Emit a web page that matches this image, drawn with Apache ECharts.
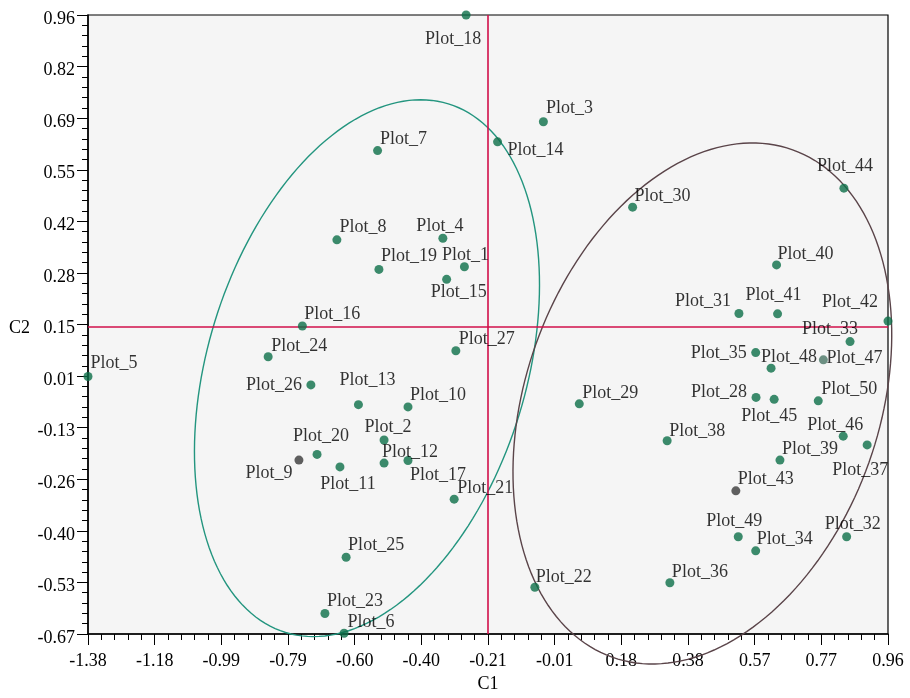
<!DOCTYPE html>
<html>
<head>
<meta charset="utf-8">
<script src="https://cdn.jsdelivr.net/npm/echarts@6/dist/echarts.min.js"></script>
<style>
  html, body { margin: 0; padding: 0; background: #ffffff; }
  #chart { width: 910px; height: 698px; }
</style>
</head>
<body>
<div id="chart"></div>
<script>
// Plot scores on the first two components
const plotNames = [
  'Plot_1','Plot_2','Plot_3','Plot_4','Plot_5','Plot_6','Plot_7','Plot_8','Plot_9','Plot_10',
  'Plot_11','Plot_12','Plot_13','Plot_14','Plot_15','Plot_16','Plot_17','Plot_18','Plot_19','Plot_20',
  'Plot_21','Plot_22','Plot_23','Plot_24','Plot_25','Plot_26','Plot_27','Plot_28','Plot_29','Plot_30',
  'Plot_31','Plot_32','Plot_33','Plot_34','Plot_35','Plot_36','Plot_37','Plot_38','Plot_39','Plot_40',
  'Plot_41','Plot_42','Plot_43','Plot_44','Plot_45','Plot_46','Plot_47','Plot_48','Plot_49','Plot_50'
];
const c1Values = [
  -0.279, -0.514, -0.048, -0.342, -1.380, -0.631, -0.533, -0.652, -0.763, -0.444,
  -0.643, -0.514, -0.589, -0.182, -0.331, -0.753, -0.444, -0.274, -0.529, -0.710,
  -0.309, -0.073, -0.687, -0.853, -0.625, -0.728, -0.304,  0.574,  0.057,  0.213,
   0.524,  0.839,  0.849,  0.573,  0.573,  0.322,  0.899,  0.314,  0.644,  0.634,
   0.637,  0.960,  0.515,  0.831,  0.627,  0.829,  0.771,  0.618,  0.522,  0.756
];
const c2Values = [
   0.297, -0.159,  0.679,  0.372,  0.008, -0.668,  0.603,  0.368, -0.212, -0.072,
  -0.230, -0.220, -0.066,  0.626,  0.264,  0.141, -0.213,  0.960,  0.290, -0.197,
  -0.315, -0.547, -0.616,  0.060, -0.468, -0.014,  0.076, -0.047, -0.064,  0.454,
   0.174, -0.414,  0.100, -0.451,  0.071, -0.535, -0.172, -0.161, -0.212,  0.302,
   0.173,  0.154, -0.293,  0.504, -0.052, -0.149,  0.052,  0.030, -0.414, -0.056
];

// Axis extents and tick labels
const c1Range = [-1.38, 0.96];
const c2Range = [-0.67, 0.96];
const xTickLabels = ['-1.38','-1.18','-0.99','-0.79','-0.60','-0.40','-0.21','-0.01','0.18','0.38','0.57','0.77','0.96'];
const yTickLabels = ['-0.67','-0.53','-0.40','-0.26','-0.13','0.01','0.15','0.28','0.42','0.55','0.69','0.82','0.96'];

// Reference cross lines
const crossC1 = -0.207;
const crossC2 = 0.14;

// Group ellipses: centre (C1, C2), then the two semi-axis vectors
const ellipseLeft  = [-0.564,  0.030, 0.238, 0.696, 0.445, -0.123];
const ellipseRight = [ 0.417, -0.063, 0.264, 0.668, 0.487, -0.156];

// ---- styling ----
const FONT = '"Liberation Serif", "Times New Roman", serif';
const TEXT = '#000000';
const DOT = '#0c6f48';
const dotColour = { Plot_9: '#383838', Plot_43: '#3a3a3a', Plot_47: '#4a7565' };
// label centre relative to the dot, in px
const labelOffset = {
  Plot_1:[1,-12], Plot_2:[4,-13], Plot_3:[26,-13], Plot_4:[-3,-12], Plot_5:[26,-13],
  Plot_6:[27,-11], Plot_7:[26,-11], Plot_8:[26,-13], Plot_9:[-30,13], Plot_10:[30,-12],
  Plot_11:[8,17], Plot_12:[26,-11], Plot_13:[9,-24], Plot_14:[38,8], Plot_15:[12,13],
  Plot_16:[30,-12], Plot_17:[30,15], Plot_18:[-13,24], Plot_19:[30,-13], Plot_20:[4,-18],
  Plot_21:[31,-11], Plot_22:[29,-10], Plot_23:[30,-12], Plot_24:[31,-11], Plot_25:[30,-12],
  Plot_26:[-37,0], Plot_27:[31,-11], Plot_28:[-37,-5], Plot_29:[31,-11], Plot_30:[30,-11],
  Plot_31:[-36,-12], Plot_32:[6,-13], Plot_33:[-20,-12], Plot_34:[29,-12], Plot_35:[-37,1],
  Plot_36:[30,-10], Plot_37:[-7,25], Plot_38:[30,-9], Plot_39:[30,-11], Plot_40:[29,-11],
  Plot_41:[-4,-19], Plot_42:[-38,-19], Plot_43:[30,-12], Plot_44:[1,-22], Plot_45:[-5,17],
  Plot_46:[-8,-11], Plot_47:[31,-2], Plot_48:[18,-11], Plot_49:[-4,-16], Plot_50:[31,-12]
};
const SYM = 9;

const scatterData = plotNames.map((name, i) => {
  const off = labelOffset[name] || [0, -12];
  return {
    name: name,
    value: [c1Values[i], c2Values[i]],
    itemStyle: { color: dotColour[name] || DOT },
    label: {
      show: true,
      formatter: name,
      color: TEXT,
      fontFamily: FONT,
      fontSize: 18,
      position: [SYM / 2 + off[0], SYM / 2 + off[1]],
      align: 'center',
      verticalAlign: 'middle'
    }
  };
});

function ellipseRender(params, api) {
  const cx = api.value(0), cy = api.value(1);
  const ux = api.value(2), uy = api.value(3);
  const vx = api.value(4), vy = api.value(5);
  const pts = [];
  const n = 180;
  for (let k = 0; k < n; k++) {
    const t = (k / n) * Math.PI * 2;
    const c = Math.cos(t), s = Math.sin(t);
    pts.push(api.coord([cx + c * ux + s * vx, cy + c * uy + s * vy]));
  }
  return {
    type: 'polygon',
    shape: { points: pts },
    style: { fill: 'none', stroke: api.visual('color'), lineWidth: 1.4 }
  };
}

const tickAxisCommon = {
  type: 'value',
  min: 0,
  max: 12,
  interval: 1,
  axisLine: { show: true, onZero: false, lineStyle: { color: '#000', width: 1.5 } },
  axisTick: { show: true, inside: false, length: 11, lineStyle: { color: '#000', width: 1 } },
  minorTick: { show: true, splitNumber: 5, length: 6, lineStyle: { color: '#000', width: 1 } },
  splitLine: { show: false },
  minorSplitLine: { show: false },
  nameTextStyle: { fontFamily: FONT, fontSize: 18, color: TEXT }
};

const chart = echarts.init(document.getElementById('chart'), null, { renderer: 'canvas' });
chart.setOption({
  backgroundColor: '#ffffff',
  animation: false,
  textStyle: { fontFamily: FONT, color: TEXT },
  grid: {
    left: 88, right: 22, top: 15, bottom: 64,
    show: true,
    backgroundColor: '#f5f5f5',
    borderColor: '#000',
    borderWidth: 1.2
  },
  xAxis: [
    {
      type: 'value', min: c1Range[0], max: c1Range[1], show: false,
      axisLine: { onZero: false }, splitLine: { show: false }
    },
    Object.assign({}, tickAxisCommon, {
      position: 'bottom',
      name: 'C1',
      nameLocation: 'middle',
      nameGap: 41,
      axisLabel: {
        formatter: v => xTickLabels[Math.round(v)],
        margin: 18,
        fontFamily: FONT, fontSize: 18, color: TEXT
      }
    })
  ],
  yAxis: [
    {
      type: 'value', min: c2Range[0], max: c2Range[1], show: false,
      axisLine: { onZero: false }, splitLine: { show: false }
    },
    Object.assign({}, tickAxisCommon, {
      position: 'left',
      name: 'C2',
      nameLocation: 'middle',
      nameRotate: 0,
      nameGap: 58,
      nameTextStyle: { fontFamily: FONT, fontSize: 18, color: TEXT, verticalAlign: 'top', lineHeight: 8 },
      axisLabel: {
        formatter: v => yTickLabels[Math.round(v)],
        margin: 13,
        verticalAlign: 'top',
        lineHeight: 8,
        fontFamily: FONT, fontSize: 18, color: TEXT
      }
    })
  ],
  series: [
    {
      type: 'custom',
      xAxisIndex: 0, yAxisIndex: 0,
      z: 1,
      silent: true,
      clip: false,
      renderItem: ellipseRender,
      encode: { x: 0, y: 1 },
      data: [
        { value: ellipseLeft, itemStyle: { color: '#23957f' } },
        { value: ellipseRight, itemStyle: { color: '#5a4449' } }
      ]
    },
    {
      type: 'scatter',
      xAxisIndex: 0, yAxisIndex: 0,
      z: 3,
      clip: false,
      symbol: 'circle',
      symbolSize: SYM,
      label: { fontFamily: FONT, fontSize: 18, color: TEXT },
      labelLayout: { hideOverlap: false },
      data: scatterData,
      markLine: {
        silent: true,
        symbol: 'none',
        z: 2,
        label: { show: false },
        lineStyle: { color: '#d10f4a', width: 1.6, type: 'solid' },
        data: [ { xAxis: crossC1 }, { yAxis: crossC2 } ]
      }
    }
  ]
});
</script>
</body>
</html>
